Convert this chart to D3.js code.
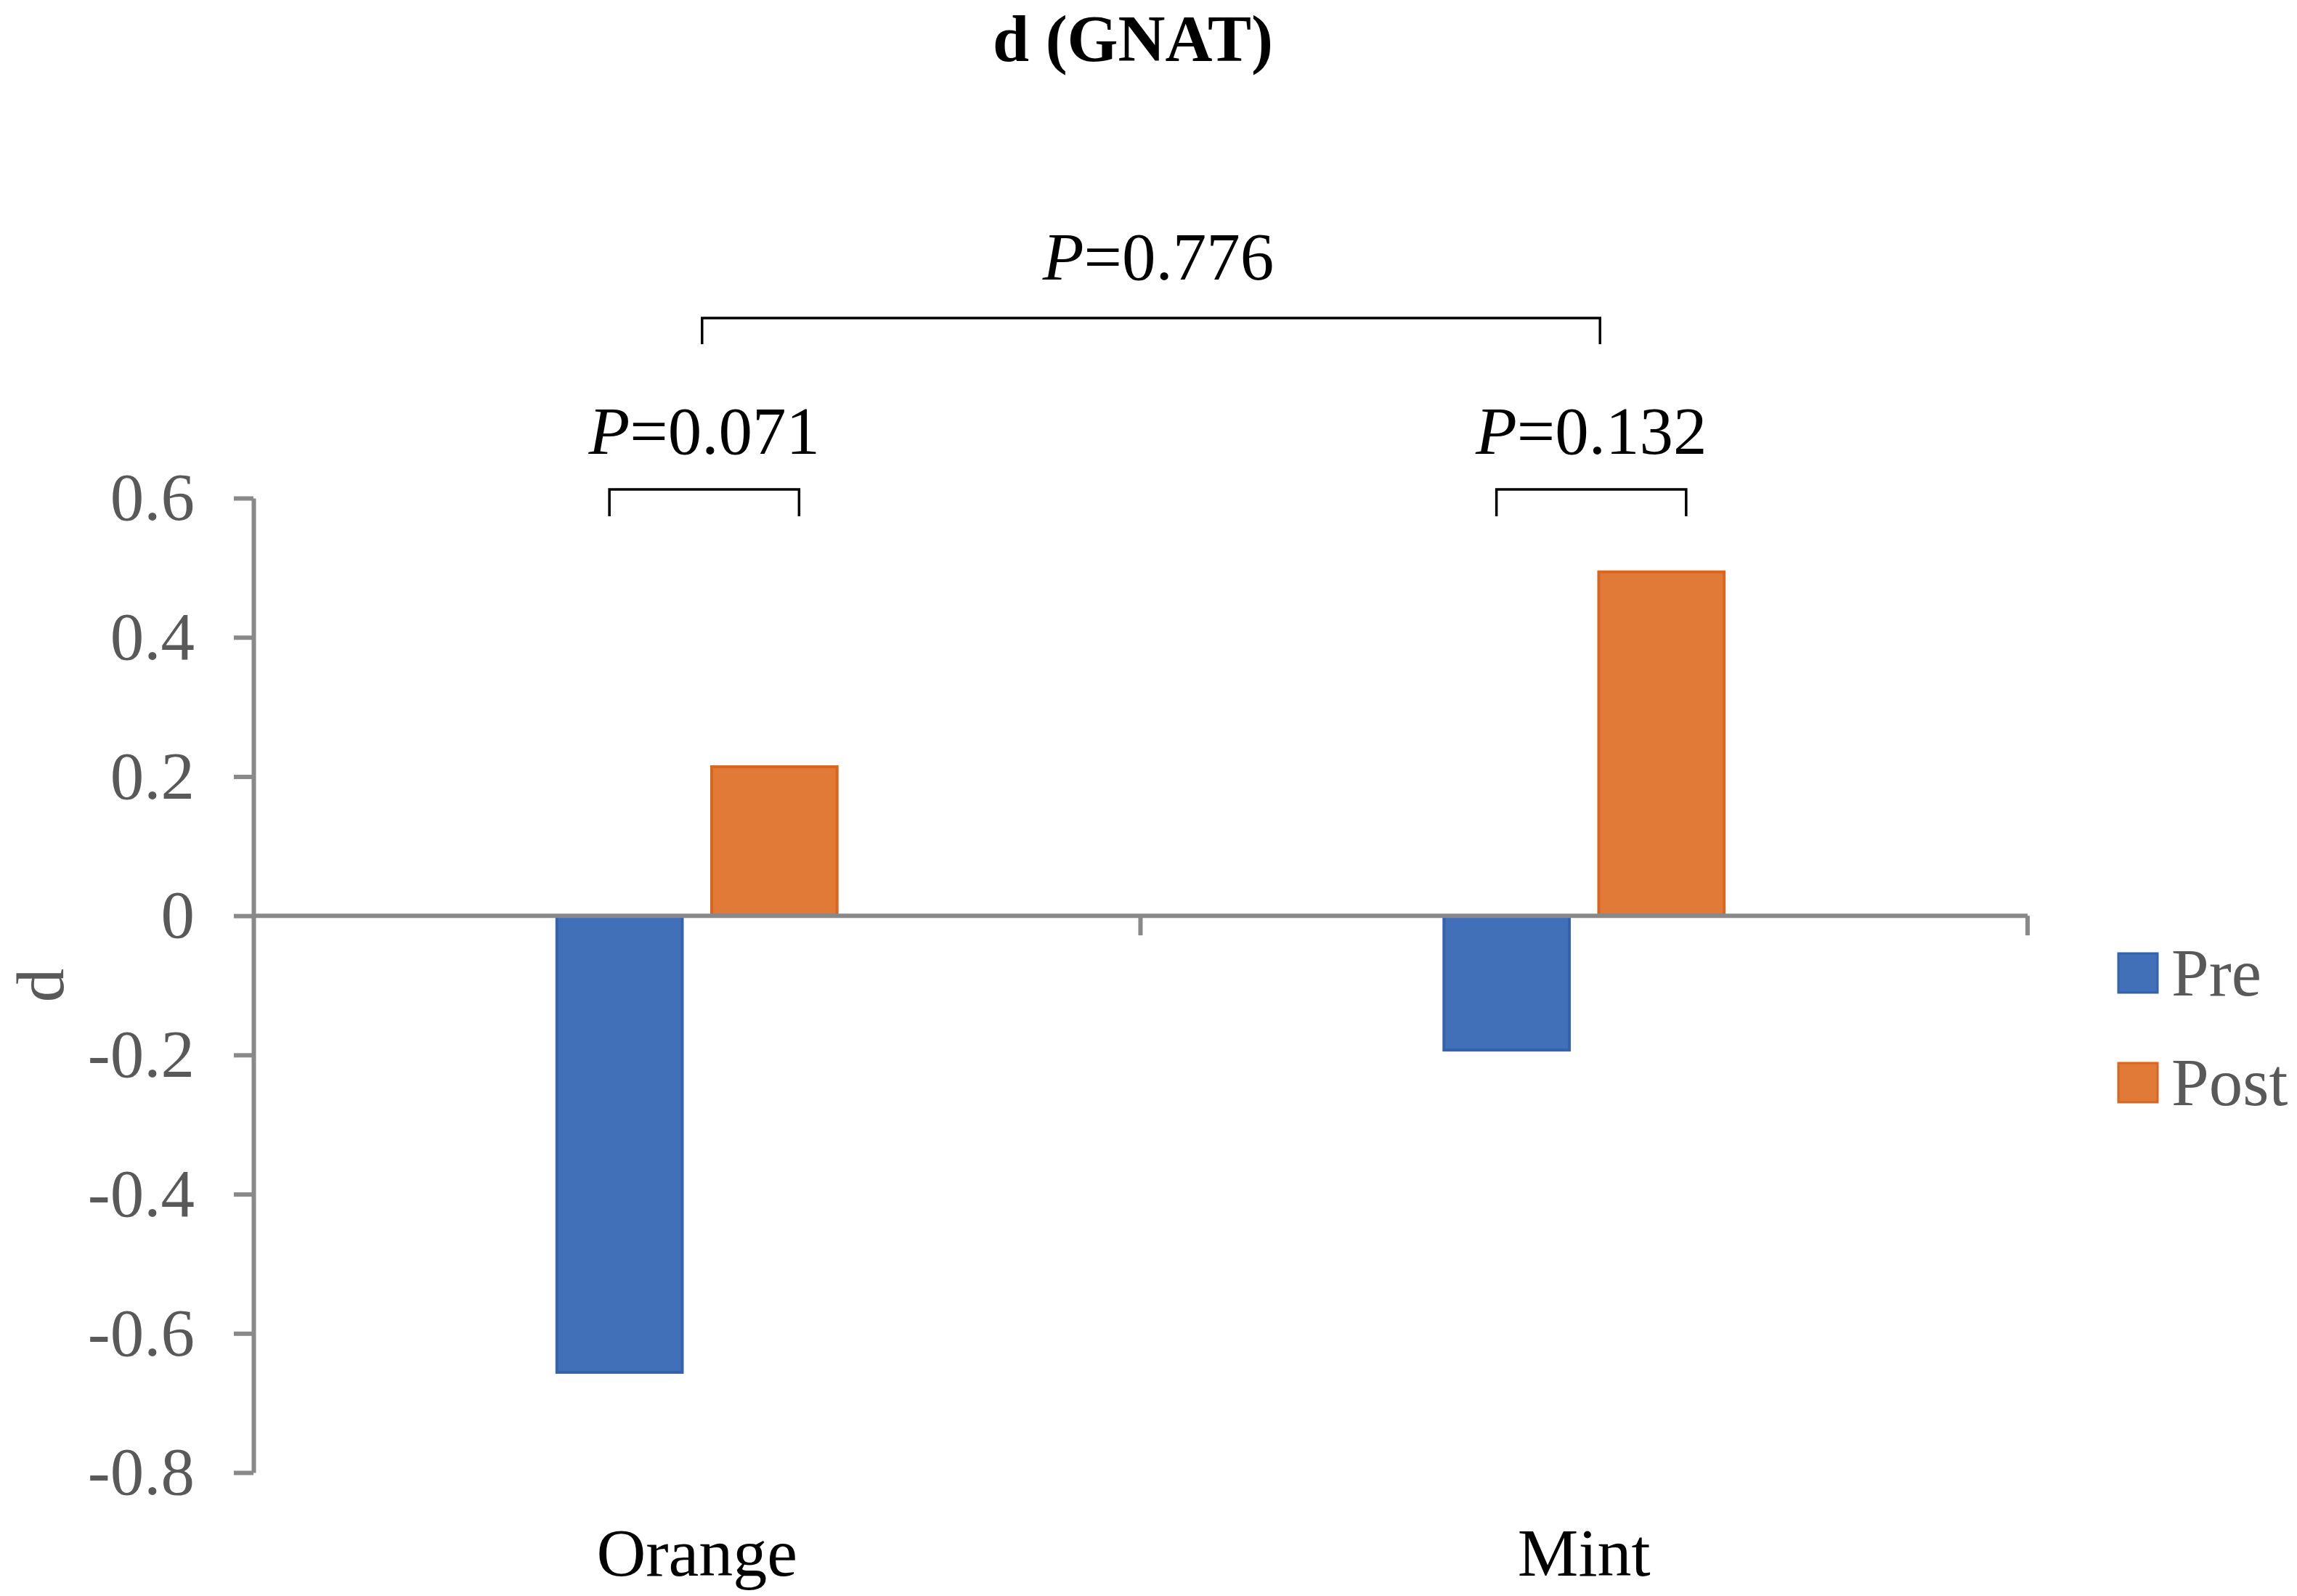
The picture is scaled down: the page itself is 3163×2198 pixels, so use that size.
<!DOCTYPE html>
<html>
<head>
<meta charset="utf-8">
<script src="https://cdn.jsdelivr.net/npm/d3@7/dist/d3.min.js"></script>
<style>
  body { margin: 0; background: #fff; }
  svg { display: block; }
  text { font-family: "Liberation Serif", "Times New Roman", serif; }
</style>
</head>
<body>
<svg id="main-canvas" width="3163" height="2198"></svg>
<script>
// data
const categories = ["Orange", "Mint"]
const series = ["Pre", "Post"]
const preValues = [-0.656, -0.193]
const postValues = [0.214, 0.494]
const yTicks = [0.6, 0.4, 0.2, 0, -0.2, -0.4, -0.6, -0.8]
const seriesColors = ["#4170B8", "#E07A36"]
const seriesStroke = ["#3462AC", "#D9661E"]

// p-value brackets: between two bars of one group, or between two groups
const pairBrackets = [
    { category: "Orange", label: "0.071" },
    { category: "Mint", label: "0.132" }
]
const groupBracket = { from: "Orange", to: "Mint", label: "0.776" }

const W = 3163, H = 2198
const plot = { left: 349, right: 2792, top: 686, bottom: 2028 }
const svg = d3.select("#main-canvas")
const axisColor = "#898989"
const textGrey = "#595959"

// plain hyphen for negatives, like the original
const fmt = d3.formatLocale({ decimal: ".", thousands: ",", grouping: [3], currency: ["", ""], minus: "-" })
              .format(".1f")

svg.append("rect").attr("width", W).attr("height", H).attr("fill", "#fff")

const x = d3.scaleBand()
            .domain(categories)
            .range([plot.left, plot.right])
            .padding(0)

const xs = d3.scaleBand()
             .domain(series)
             .range([0, x.bandwidth()])
             .paddingInner(0.19)
             .paddingOuter(1.96)

const y = d3.scaleLinear()
            .domain([-0.8, 0.6])
            .range([plot.bottom, plot.top])

const rows = categories.map((c, i) => ({ category: c, values: [preValues[i], postValues[i]] }))

// bars
const groups = svg.append("g")
                  .selectAll("g")
                  .data(rows)
                  .join("g")
                  .attr("transform", d => "translate(" + x(d.category) + ",0)")

groups.selectAll("rect")
      .data(d => d.values.map((v, j) => ({ s: series[j], j: j, v: v })))
      .join("rect")
      .attr("x", d => xs(d.s))
      .attr("width", xs.bandwidth())
      .attr("y", d => y(Math.max(0, d.v)))
      .attr("height", d => Math.abs(y(d.v) - y(0)))
      .attr("fill", d => seriesColors[d.j])
      .attr("stroke", d => seriesStroke[d.j])
      .attr("stroke-width", 4)

// y axis
const yAxis = svg.append("g")
                 .attr("transform", "translate(" + plot.left + ",0)")
                 .call(d3.axisLeft(y)
                         .tickValues(yTicks)
                         .tickFormat(d => d === 0 ? "0" : fmt(d))
                         .tickSize(27)
                         .tickSizeOuter(0)
                         .tickPadding(54))

yAxis.select(".domain").attr("stroke", axisColor).attr("stroke-width", 6)
yAxis.selectAll(".tick line").attr("stroke", axisColor).attr("stroke-width", 6)
yAxis.selectAll(".tick text")
     .attr("fill", textGrey)
     .attr("font-size", 93)
     .attr("font-family", "Liberation Serif")

// x axis along zero
svg.append("line")
   .attr("x1", plot.left).attr("x2", plot.right)
   .attr("y1", y(0)).attr("y2", y(0))
   .attr("stroke", axisColor).attr("stroke-width", 6)

const boundaries = categories.map(c => x(c)).concat([plot.right]).slice(1)
svg.selectAll(".x-tick")
   .data(boundaries)
   .join("line")
   .attr("class", "x-tick")
   .attr("x1", d => d).attr("x2", d => d)
   .attr("y1", y(0)).attr("y2", y(0) + 27)
   .attr("stroke", axisColor).attr("stroke-width", 6)

// category labels
svg.selectAll(".cat-label")
   .data(categories)
   .join("text")
   .attr("class", "cat-label")
   .attr("x", d => x(d) + x.bandwidth() / 2)
   .attr("y", 2170)
   .attr("text-anchor", "middle")
   .attr("font-size", 94)
   .attr("fill", "#000")
   .text(d => d)

// y title
svg.append("text")
   .attr("transform", "translate(87," + (plot.top + plot.bottom) / 2 + ") rotate(-90)")
   .attr("text-anchor", "middle")
   .attr("font-size", 93)
   .attr("fill", textGrey)
   .text("d")

// chart title
svg.append("text")
   .attr("x", 1560)
   .attr("y", 84)
   .attr("text-anchor", "middle")
   .attr("font-size", 90)
   .attr("font-weight", "bold")
   .attr("fill", "#000")
   .text("d (GNAT)")

// brackets
function bracket(x1, x2, yTop, yBot, label, labelY, labelX) {
    svg.append("path")
       .attr("d", "M" + x1 + "," + yBot + "V" + yTop + "H" + x2 + "V" + yBot)
       .attr("fill", "none")
       .attr("stroke", "#000")
       .attr("stroke-width", 3.5)

    const t = svg.append("text")
                 .attr("x", labelX)
                 .attr("y", labelY)
                 .attr("text-anchor", "middle")
                 .attr("font-size", 93)
                 .attr("fill", "#000")
    t.append("tspan").attr("font-style", "italic").text("P")
    t.append("tspan").text("=" + label)
}

pairBrackets.forEach(b => {
    const x1 = x(b.category) + xs("Pre") + xs.bandwidth() / 2 - 14
    const x2 = x(b.category) + xs("Post") + xs.bandwidth() / 2 + 34
    bracket(x1, x2, 674, 711, b.label, 625, (x1 + x2) / 2)
})

const gx1 = x(groupBracket.from) + x.bandwidth() / 2 + 7
const gx2 = x(groupBracket.to) + x.bandwidth() / 2 + 22
bracket(gx1, gx2, 438, 474, groupBracket.label, 385, (gx1 + gx2) / 2 + 10)

// legend
const legend = svg.append("g")
                  .selectAll("g")
                  .data(series)
                  .join("g")
                  .attr("transform", (d, i) => "translate(2917," + (1313 + i * 151) + ")")

legend.append("rect")
      .attr("width", 54).attr("height", 54)
      .attr("fill", (d, i) => seriesColors[i])
      .attr("stroke", (d, i) => seriesStroke[i])
      .attr("stroke-width", 3)

legend.append("text")
      .attr("x", 73)
      .attr("y", 58)
      .attr("font-size", 93)
      .attr("fill", textGrey)
      .text(d => d)
</script>
</body>
</html>
